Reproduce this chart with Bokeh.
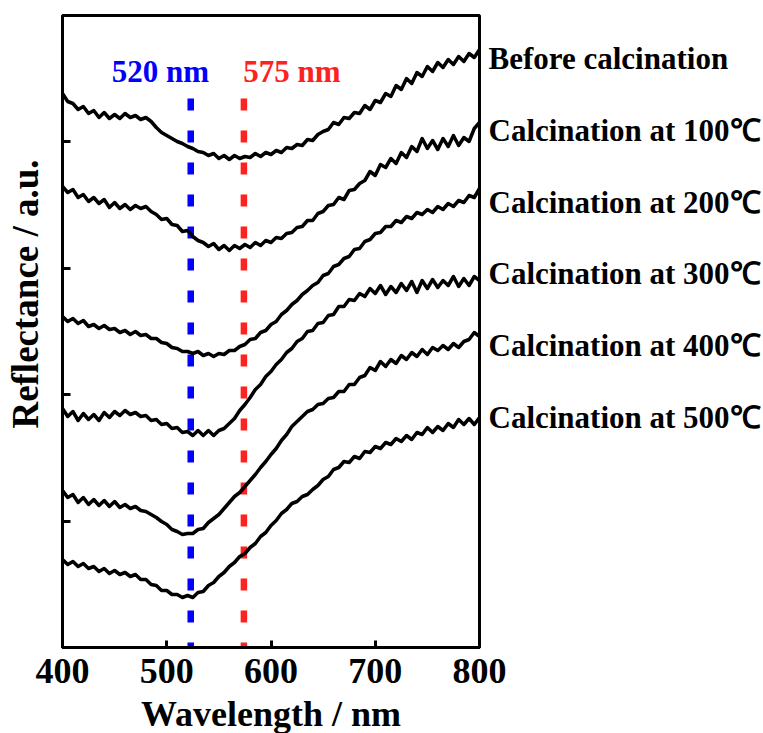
from bokeh.plotting import figure
from bokeh.models import Range1d, FixedTicker, Label, LinearAxis
from bokeh.embed import file_html
from bokeh.resources import INLINE

# ---------------- data ----------------
wavelength = list(range(400, 801, 5))  # nm

before_calcination = [
    5.54, 5.46, 5.44, 5.38, 5.41, 5.34, 5.37, 5.30, 5.35, 5.29, 5.33, 5.29, 5.34, 5.30, 5.32, 5.28,
    5.30, 5.26, 5.20, 5.15, 5.12, 5.09, 5.06, 5.04, 5.01, 4.99, 4.96, 4.95, 4.92, 4.94, 4.89, 4.92,
    4.88, 4.92, 4.89, 4.91, 4.90, 4.94, 4.91, 4.95, 4.93, 4.97, 4.95, 5.00, 4.99, 5.03, 5.02, 5.08,
    5.07, 5.13, 5.16, 5.18, 5.25, 5.23, 5.30, 5.29, 5.35, 5.34, 5.42, 5.38, 5.47, 5.45, 5.54, 5.51,
    5.62, 5.58, 5.69, 5.64, 5.75, 5.71, 5.81, 5.76, 5.85, 5.80, 5.88, 5.83, 5.91, 5.86, 5.94, 5.90,
    5.98]
calc_100 = [
    4.61, 4.55, 4.58, 4.50, 4.53, 4.46, 4.50, 4.44, 4.48, 4.40, 4.45, 4.39, 4.43, 4.38, 4.42, 4.39,
    4.41, 4.36, 4.33, 4.28, 4.29, 4.23, 4.22, 4.16, 4.17, 4.11, 4.07, 4.05, 4.01, 4.04, 3.98, 4.02,
    3.97, 4.02, 3.99, 4.03, 4.00, 4.05, 4.02, 4.07, 4.05, 4.10, 4.09, 4.14, 4.15, 4.20, 4.21, 4.27,
    4.27, 4.34, 4.36, 4.42, 4.43, 4.50, 4.48, 4.57, 4.58, 4.64, 4.67, 4.76, 4.72, 4.83, 4.80, 4.89,
    4.84, 4.95, 4.90, 5.01, 4.96, 5.09, 4.99, 5.07, 4.98, 5.09, 5.01, 5.12, 5.02, 5.10, 5.06, 5.19,
    5.25]
calc_200 = [
    3.31, 3.26, 3.29, 3.24, 3.27, 3.21, 3.23, 3.19, 3.22, 3.18, 3.19, 3.15, 3.17, 3.13, 3.16, 3.12,
    3.13, 3.09, 3.09, 3.05, 3.04, 3.00, 2.99, 2.96, 2.96, 2.94, 2.96, 2.92, 2.94, 2.91, 2.94, 2.93,
    2.97, 2.97, 3.01, 3.03, 3.08, 3.09, 3.15, 3.17, 3.23, 3.26, 3.33, 3.37, 3.43, 3.47, 3.53, 3.57,
    3.62, 3.65, 3.72, 3.74, 3.81, 3.83, 3.89, 3.91, 3.98, 3.99, 4.06, 4.08, 4.14, 4.15, 4.21, 4.21,
    4.27, 4.25, 4.31, 4.29, 4.35, 4.33, 4.38, 4.35, 4.41, 4.38, 4.44, 4.41, 4.47, 4.45, 4.52, 4.50,
    4.59]
calc_300 = [
    2.39, 2.31, 2.36, 2.27, 2.34, 2.28, 2.33, 2.27, 2.35, 2.30, 2.36, 2.32, 2.37, 2.33, 2.35, 2.31,
    2.32, 2.27, 2.28, 2.23, 2.24, 2.19, 2.20, 2.15, 2.16, 2.12, 2.17, 2.12, 2.17, 2.12, 2.17, 2.19,
    2.24, 2.29, 2.37, 2.43, 2.50, 2.58, 2.63, 2.71, 2.76, 2.83, 2.88, 2.95, 2.99, 3.06, 3.09, 3.16,
    3.17, 3.24, 3.25, 3.32, 3.33, 3.41, 3.41, 3.48, 3.47, 3.54, 3.51, 3.59, 3.54, 3.62, 3.53, 3.61,
    3.55, 3.64, 3.57, 3.66, 3.55, 3.67, 3.59, 3.68, 3.60, 3.67, 3.62, 3.71, 3.61, 3.69, 3.62, 3.71,
    3.67]
calc_400 = [
    1.57, 1.50, 1.53, 1.45, 1.50, 1.43, 1.48, 1.42, 1.47, 1.41, 1.46, 1.40, 1.43, 1.39, 1.41, 1.37,
    1.36, 1.33, 1.30, 1.26, 1.23, 1.18, 1.16, 1.13, 1.14, 1.14, 1.18, 1.19, 1.25, 1.29, 1.33, 1.39,
    1.45, 1.51, 1.55, 1.61, 1.67, 1.73, 1.80, 1.86, 1.93, 1.99, 2.07, 2.13, 2.21, 2.26, 2.31, 2.36,
    2.38, 2.43, 2.44, 2.49, 2.50, 2.56, 2.56, 2.63, 2.63, 2.70, 2.72, 2.80, 2.77, 2.86, 2.81, 2.88,
    2.84, 2.92, 2.88, 2.95, 2.91, 2.98, 2.93, 3.00, 2.97, 3.02, 2.98, 3.04, 3.00, 3.06, 3.08, 3.15,
    3.11]
calc_500 = [
    0.88, 0.83, 0.86, 0.81, 0.84, 0.79, 0.81, 0.76, 0.79, 0.74, 0.77, 0.73, 0.75, 0.71, 0.73, 0.68,
    0.68, 0.63, 0.62, 0.57, 0.57, 0.53, 0.53, 0.50, 0.52, 0.50, 0.55, 0.56, 0.62, 0.65, 0.71, 0.75,
    0.81, 0.85, 0.91, 0.94, 1.00, 1.04, 1.11, 1.15, 1.22, 1.27, 1.34, 1.38, 1.44, 1.46, 1.51, 1.53,
    1.58, 1.62, 1.68, 1.71, 1.78, 1.80, 1.86, 1.85, 1.91, 1.89, 1.96, 1.95, 2.01, 1.99, 2.05, 2.03,
    2.09, 2.06, 2.12, 2.08, 2.15, 2.13, 2.20, 2.15, 2.21, 2.17, 2.24, 2.20, 2.28, 2.23, 2.29, 2.23,
    2.30]

series = [before_calcination, calc_100, calc_200, calc_300, calc_400, calc_500]
series_labels = ["Before calcination", "Calcination at 100℃", "Calcination at 200℃",
                 "Calcination at 300℃", "Calcination at 400℃", "Calcination at 500℃"]

marker_positions = [523, 574]
marker_texts = ["520 nm", "575 nm"]
marker_colors = ["#0000ff", "#ff2020"]

x_ticks = [400, 500, 600, 700, 800]
y_ticks = [1.264, 2.528, 3.792, 5.056]

# ---------------- layout constants (positions, not data) ----------------
FONT = "Liberation Serif"
label_levels = [5.89, 5.17, 4.45, 3.74, 3.02, 2.30]
ytitle_level = 3.535
marker_text_x = [494, 620]
marker_text_y = 5.76
marker_top = 5.49

p = figure(frame_width=417, frame_height=632, x_range=Range1d(400, 800),
           y_range=Range1d(0, 6.32), output_backend="svg", toolbar_location=None,
           min_border_left=62, min_border_right=284, min_border_top=15, min_border_bottom=86)
p.xgrid.visible = False
p.ygrid.visible = False
p.outline_line_color = "black"
p.outline_line_width = 3
p.outline_line_alpha = 1.0

xa = p.xaxis[0]
xa.ticker = FixedTicker(ticks=x_ticks)
xa.axis_line_width = 3
xa.major_tick_line_width = 3
xa.major_tick_in = 7
xa.major_tick_out = 0
xa.minor_tick_line_color = None
xa.major_label_text_font = FONT
xa.major_label_text_font_style = "bold"
xa.major_label_text_font_size = "36px"
xa.major_label_text_color = "black"
xa.major_label_standoff = 11
xa.axis_label = "Wavelength / nm"
xa.axis_label_text_font = FONT
xa.axis_label_text_font_style = "bold"
xa.axis_label_text_font_size = "36px"
xa.axis_label_text_color = "black"
xa.axis_label_standoff = 8

ya = p.yaxis[0]
ya.ticker = FixedTicker(ticks=y_ticks)
ya.axis_line_width = 3
ya.major_tick_line_width = 3
ya.major_tick_in = 8
ya.major_tick_out = 0
ya.minor_tick_line_color = None
ya.major_label_text_font_size = "0px"
ya.major_label_standoff = 0
ya.major_label_overrides = {t: "" for t in y_ticks}

# y-axis title as a single vertical tick label (placed off-centre like the original)
ytitle = LinearAxis(ticker=FixedTicker(ticks=[ytitle_level]),
                    major_label_overrides={ytitle_level: "Reflectance / a.u."},
                    major_label_orientation="vertical",
                    major_label_text_font=FONT, major_label_text_font_style="bold",
                    major_label_text_font_size="37px", major_label_text_color="black",
                    major_label_standoff=17, axis_line_color=None,
                    major_tick_in=0, major_tick_out=0, minor_tick_line_color=None)
p.add_layout(ytitle, "left")

# series names on the right, each beside its curve
names = LinearAxis(ticker=FixedTicker(ticks=label_levels),
                   major_label_overrides=dict(zip(label_levels, series_labels)),
                   major_label_text_font=FONT, major_label_text_font_style="bold",
                   major_label_text_font_size="31px", major_label_text_color="black",
                   major_label_standoff=9, axis_line_color=None,
                   major_tick_in=0, major_tick_out=0, minor_tick_line_color=None)
p.add_layout(names, "right")

for xm, col in zip(marker_positions, marker_colors):
    p.line([xm, xm], [marker_top, 0], line_color=col, line_width=6.5,
           line_dash="12 20", line_cap="butt")

for ys in series:
    p.line(wavelength, ys, line_color="black", line_width=3.5, line_join="round")

for txt, tx, col in zip(marker_texts, marker_text_x, marker_colors):
    p.add_layout(Label(x=tx, y=marker_text_y, text=txt, text_font=FONT, text_font_style="bold",
                       text_font_size="31px", text_color=col, text_align="center",
                       text_baseline="alphabetic"))

open("out.html", "w").write(file_html(p, INLINE))
